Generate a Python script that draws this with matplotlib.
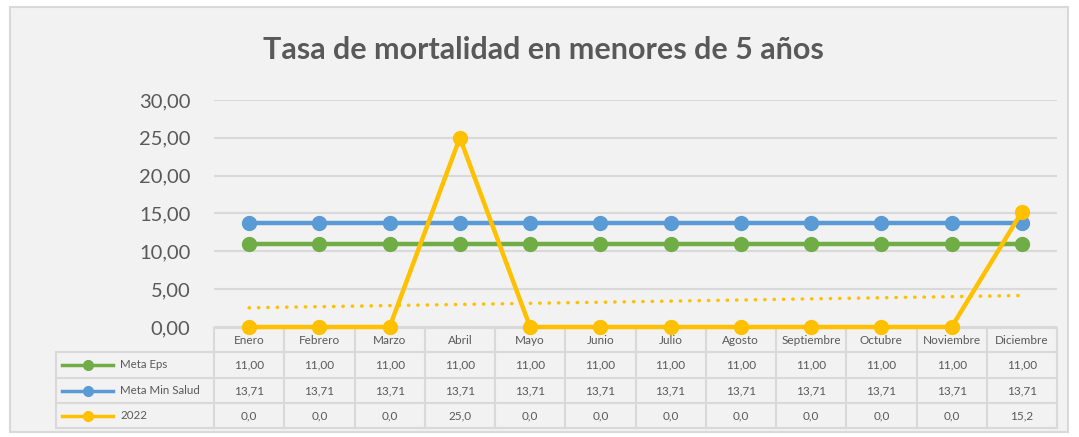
import matplotlib
matplotlib.use('Agg')
import numpy as np
import matplotlib.pyplot as plt
from matplotlib.patches import Rectangle

plt.rcParams['font.family'] = ['Lato', 'DejaVu Sans']

# datos
meses = ['Enero', 'Febrero', 'Marzo', 'Abril', 'Mayo', 'Junio', 'Julio',
         'Agosto', 'Septiembre', 'Octubre', 'Noviembre', 'Diciembre']
meta_eps = [11.00] * 12
meta_min_salud = [13.71] * 12
tasa_2022 = [0.0, 0.0, 0.0, 25.0, 0.0, 0.0, 0.0, 0.0, 0.0, 0.0, 0.0, 15.2]
y_ticks = [0, 5, 10, 15, 20, 25, 30]

verde, azul, amarillo = '#70AD47', '#5B9BD5', '#FFC000'
gris_txt, gris_lin = '#595959', '#d9d9d9'

W, H = 1079, 437
fig = plt.figure(figsize=(W / 100, H / 100), dpi=100)
fig.patch.set_facecolor('white')

# fondo en coordenadas de pixel
bg = fig.add_axes([0, 0, 1, 1])
bg.set_xlim(0, W)
bg.set_ylim(H, 0)
bg.axis('off')
bg.add_patch(Rectangle((10, 7), 1058, 425, fc='#f2f2f2', ec=gris_lin, lw=1.5))

bg.text(543, 50, 'Tasa de mortalidad en menores de 5 años', ha='center', va='center',
        fontsize=22, fontweight='bold', color=gris_txt)

# area del grafico
x0, x1 = 214, 1057
y_top, y_cero = 100, 327
ax = fig.add_axes([x0 / W, (H - y_cero) / H, (x1 - x0) / W, (y_cero - y_top) / H])
ax.set_facecolor('none')
x = np.arange(1, 13)
ax.set_xlim(0.5, 12.5)
ax.set_ylim(0, 30)
ax.set_yticks(y_ticks)
ax.set_yticklabels([f'{v:.2f}'.replace('.', ',') for v in y_ticks])
ax.set_xticks([])
ax.grid(axis='y', color=gris_lin, lw=1.5)
ax.set_axisbelow(True)
for s in ax.spines.values():
    s.set_visible(False)
ax.tick_params(axis='y', length=0, pad=17, labelsize=14.5, labelcolor=gris_txt)

ax.plot(x, meta_eps, color=verde, lw=3.2, marker='o', ms=10, clip_on=False, zorder=3)
ax.plot(x, meta_min_salud, color=azul, lw=3.2, marker='o', ms=10, clip_on=False, zorder=4)
# linea de tendencia lineal de 2022
coef = np.polyfit(x, tasa_2022, 1)
ax.plot(x, np.polyval(coef, x), color=amarillo, lw=2.5, linestyle=(0, (0.1, 2.6)),
        dash_capstyle='round', clip_on=False, zorder=2)
ax.plot(x, tasa_2022, color=amarillo, lw=3.2, marker='o', ms=10, clip_on=False, zorder=5)

# tabla de datos
col_w = (x1 - x0) / 12
leg_x = 56
filas = [328, 352, 378, 403, 428]
bg.plot([x0, x1], [filas[0], filas[0]], color=gris_lin, lw=1.5, zorder=1)
for yy in filas[1:]:
    bg.plot([leg_x, x1], [yy, yy], color=gris_lin, lw=1.5, zorder=1)
bg.plot([leg_x, leg_x], [filas[1], filas[-1]], color=gris_lin, lw=1.5, zorder=1)
for i in range(13):
    xx = x0 + i * col_w
    bg.plot([xx, xx], [filas[0], filas[-1]], color=gris_lin, lw=1.5, zorder=1)

for i, m in enumerate(meses):
    cx = x0 + (i + 0.5) * col_w
    bg.text(cx, (filas[0] + filas[1]) / 2 + 1, m, ha='center', va='center',
            fontsize=8.5, color=gris_txt)

series = [('Meta Eps', meta_eps, verde, '{:.2f}'),
          ('Meta Min Salud', meta_min_salud, azul, '{:.2f}'),
          ('2022', tasa_2022, amarillo, '{:.1f}')]
for r, (nombre, vals, col, fmt) in enumerate(series):
    cy = (filas[r + 1] + filas[r + 2]) / 2
    bg.plot([62, 113], [cy, cy], color=col, lw=2.5)
    bg.plot([88], [cy], marker='o', ms=7, color=col)
    bg.text(120, cy, nombre, ha='left', va='center', fontsize=8.3, color=gris_txt)
    for i, v in enumerate(vals):
        cx = x0 + (i + 0.5) * col_w
        bg.text(cx, cy, fmt.format(v).replace('.', ','), ha='center', va='center',
                fontsize=8.5, color=gris_txt)

fig.savefig('out.png', dpi=100)
